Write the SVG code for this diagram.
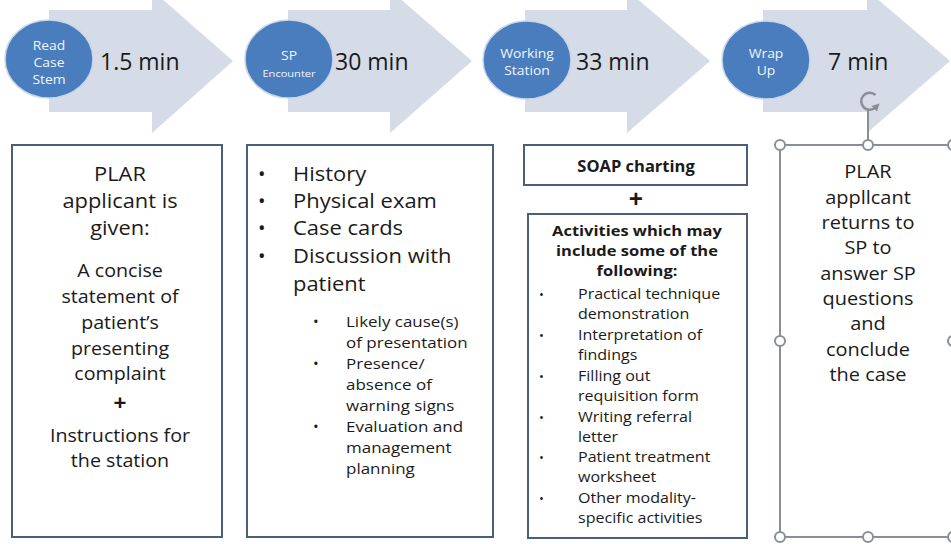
<svg xmlns="http://www.w3.org/2000/svg" width="951" height="544" viewBox="0 0 951 544">
<defs>
<style>
.arrow{fill:#d5dce8}
.circ{fill:#4a7dbd;stroke:#c9d6ea;stroke-width:1.5}
.ct{font-family:"Open Sans",Lato,sans-serif;fill:#f2f5fb;text-anchor:middle}
.mt{font-family:"Open Sans",Lato,sans-serif;font-size:23px;fill:#1a1a1a}
.box{fill:#ffffff;stroke:#4a5f7c;stroke-width:2}
.t{font-family:"Open Sans",Lato,sans-serif;fill:#1a1a1a}
.c{text-anchor:middle}
.b{font-weight:bold}
.sel{fill:none;stroke:#8a8e96;stroke-width:2}
.h{fill:#ffffff;stroke:#8a8e96;stroke-width:2}
</style>
</defs>
<rect width="951" height="544" fill="#ffffff"/>

<g id="step1">
<path class="arrow" d="M49,10 H152 V-10 L233,61 L152,133 V112 H49 Z"/>
<ellipse class="circ" cx="49" cy="59" rx="44" ry="39"/>
<g transform="translate(49,0) scale(1.13,1)"><text class="ct" font-size="12.3"><tspan x="0" y="50">Read</tspan><tspan x="0" y="67">Case</tspan><tspan x="0" y="84">Stem</tspan></text></g>
<text class="mt" x="100" y="70">1.5 min</text>
</g>

<g id="step2">
<path class="arrow" d="M288,10 H390 V-10 L472,61 L390,133 V112 H288 Z"/>
<ellipse class="circ" cx="289" cy="59" rx="44" ry="39"/>
<g transform="translate(289,0) scale(1.13,1)"><text class="ct" font-size="12.3" x="0" y="60">SP</text><text class="ct" font-size="9.8" x="0" y="77">Encounter</text></g>
<text class="mt" x="335" y="70">30 min</text>
</g>

<g id="step3">
<path class="arrow" d="M525,10 H627 V-10 L710,61 L627,133 V112 H525 Z"/>
<ellipse class="circ" cx="527" cy="60" rx="44" ry="39"/>
<g transform="translate(527,0) scale(1.13,1)"><text class="ct" font-size="12.3"><tspan x="0" y="58">Working</tspan><tspan x="0" y="75">Station</tspan></text></g>
<text class="mt" x="576" y="70">33 min</text>
</g>

<g id="step4">
<path class="arrow" d="M763,10 H867 V-10 L950,61 L867,133 V112 H763 Z"/>
<ellipse class="circ" cx="766" cy="60" rx="44" ry="39"/>
<g transform="translate(766,0) scale(1.13,1)"><text class="ct" font-size="12.3"><tspan x="0" y="58">Wrap</tspan><tspan x="0" y="75">Up</tspan></text></g>
<text class="mt" x="828" y="70">7 min</text>
</g>

<g id="box1">
<rect class="box" x="12" y="145" width="210" height="392"/>
<g transform="translate(120,0) scale(1.12,1)">
<text class="t c" font-size="19.5"><tspan x="0" y="181">PLAR</tspan><tspan x="0" y="208">applicant is</tspan><tspan x="0" y="235">given:</tspan></text>
</g>
<g transform="translate(120,0) scale(1.08,1)">
<text class="t c" font-size="18.2"><tspan x="0" y="277">A concise</tspan><tspan x="0" y="303">statement of</tspan><tspan x="0" y="329">patient’s</tspan><tspan x="0" y="355">presenting</tspan><tspan x="0" y="380">complaint</tspan></text>
<text class="t c b" font-size="21" x="0" y="410">+</text>
<text class="t c" font-size="18.2"><tspan x="0" y="442">Instructions for</tspan><tspan x="0" y="467">the station</tspan></text>
</g>
</g>

<g id="box2">
<rect class="box" x="247" y="145" width="246" height="392"/>
<text class="t" font-size="20"><tspan x="258" y="181">•</tspan><tspan x="258" y="208">•</tspan><tspan x="258" y="235">•</tspan><tspan x="258" y="263">•</tspan></text>
<g transform="translate(293,0) scale(1.12,1)">
<text class="t" font-size="19.6"><tspan x="0" y="181">History</tspan><tspan x="0" y="208">Physical exam</tspan><tspan x="0" y="235">Case cards</tspan><tspan x="0" y="263">Discussion with</tspan><tspan x="0" y="291">patient</tspan></text>
</g>
<text class="t" font-size="15"><tspan x="313" y="327">•</tspan><tspan x="313" y="369">•</tspan><tspan x="313" y="432">•</tspan></text>
<g transform="translate(346,0) scale(1.11,1)">
<text class="t" font-size="15.3"><tspan x="0" y="327">Likely cause(s)</tspan><tspan x="0" y="348">of presentation</tspan><tspan x="0" y="369">Presence/</tspan><tspan x="0" y="390">absence of</tspan><tspan x="0" y="411">warning signs</tspan><tspan x="0" y="432">Evaluation and</tspan><tspan x="0" y="453">management</tspan><tspan x="0" y="474">planning</tspan></text>
</g>
</g>

<g id="box3">
<rect class="box" x="524" y="145" width="223" height="40"/>
<text class="t c b" font-size="16.5" x="636" y="172">SOAP charting</text>
<text class="t c b" font-size="25" x="636" y="208">+</text>
<rect class="box" x="528" y="214" width="219" height="324"/>
<g transform="translate(637,0) scale(1.13,1)">
<text class="t c b" font-size="14.6"><tspan x="0" y="236">Activities which may</tspan><tspan x="0" y="256">include some of the</tspan><tspan x="0" y="276">following:</tspan></text>
</g>
<text class="t" font-size="13"><tspan x="539" y="299">•</tspan><tspan x="539" y="340">•</tspan><tspan x="539" y="381">•</tspan><tspan x="539" y="422">•</tspan><tspan x="539" y="462">•</tspan><tspan x="539" y="503">•</tspan></text>
<g transform="translate(578,0) scale(1.1,1)">
<text class="t" font-size="14.6"><tspan x="0" y="299">Practical technique</tspan><tspan x="0" y="319">demonstration</tspan><tspan x="0" y="340">Interpretation of</tspan><tspan x="0" y="360">findings</tspan><tspan x="0" y="381">Filling out</tspan><tspan x="0" y="401">requisition form</tspan><tspan x="0" y="422">Writing referral</tspan><tspan x="0" y="442">letter</tspan><tspan x="0" y="462">Patient treatment</tspan><tspan x="0" y="482">worksheet</tspan><tspan x="0" y="503">Other modality-</tspan><tspan x="0" y="523">specific activities</tspan></text>
</g>
</g>

<g id="box4">
<rect class="sel" x="780" y="145" width="180" height="392"/>
<line class="sel" x1="868" y1="110" x2="868" y2="145"/>
<path d="M875.5,95 A8.5,8.5 0 1 0 876,107" fill="none" stroke="#8a8e96" stroke-width="2.5"/>
<path d="M871.5,106 L879.5,103.5 L877,111.5 Z" fill="#8a8e96"/>
<circle class="h" cx="780" cy="145" r="5"/>
<circle class="h" cx="868" cy="145" r="5"/>
<circle class="h" cx="953" cy="145" r="5"/>
<circle class="h" cx="780" cy="341" r="5"/>
<circle class="h" cx="953" cy="341" r="5"/>
<circle class="h" cx="780" cy="537" r="5"/>
<circle class="h" cx="868" cy="537" r="5"/>
<circle class="h" cx="953" cy="537" r="5"/>
<g transform="translate(868,0) scale(1.09,1)">
<text class="t c" font-size="18.3"><tspan x="0" y="178">PLAR</tspan><tspan x="0" y="204">appllcant</tspan><tspan x="0" y="229">returns to</tspan><tspan x="0" y="254">SP to</tspan><tspan x="0" y="280">answer SP</tspan><tspan x="0" y="305">questions</tspan><tspan x="0" y="330">and</tspan><tspan x="0" y="356">conclude</tspan><tspan x="0" y="381">the case</tspan></text>
</g>
</g>
</svg>
